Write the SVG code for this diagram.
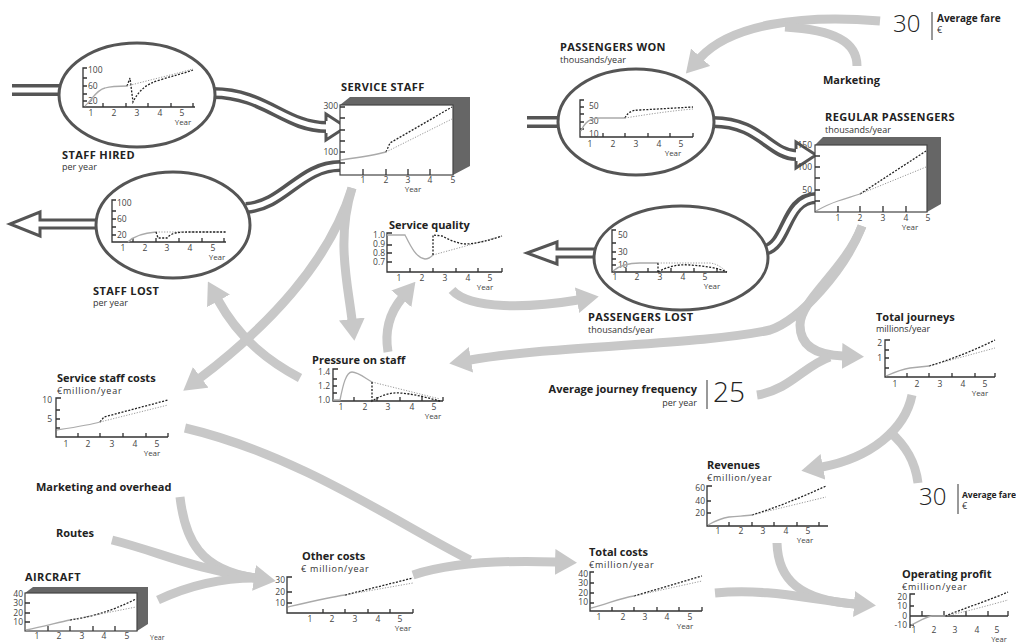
<svg xmlns="http://www.w3.org/2000/svg" width="1016" height="643" viewBox="0 0 1016 643">
<defs>
<marker id="ah" viewBox="0 0 22 26" markerWidth="22" markerHeight="26" refX="1" refY="13" orient="auto" markerUnits="userSpaceOnUse"><path d="M0,0 L22,13 L0,26 z" fill="#c8c8c8"/></marker>
</defs>
<style>
text{font-family:"Open Sans","Liberation Sans",sans-serif}
.t{font-size:11px;font-weight:700;fill:#222}
.u{font-size:9px;fill:#333}
.w{font-size:9px;fill:#333;letter-spacing:0.8px}
.a{font-size:8.5px;fill:#444}
.ar{font-size:8.5px;fill:#444;text-anchor:end}
.am{font-size:8.5px;fill:#444;text-anchor:middle}
.yr{font-size:8px;fill:#444;text-anchor:middle}
.ax{stroke:#333;stroke-width:1.3;fill:none}
.so{stroke:#aaa;stroke-width:1.3;fill:none}
.da{stroke:#222;stroke-width:1.3;fill:none;stroke-dasharray:2 1.5}
.do{stroke:#999;stroke-width:1;fill:none;stroke-dasharray:1.2 1.5}
.c{stroke:#c8c8c8;stroke-width:9;fill:none}
.ca{stroke:#c8c8c8;stroke-width:9;fill:none;marker-end:url(#ah)}
.po{stroke:#555;stroke-width:12;fill:none}
.pi{stroke:#fff;stroke-width:5;fill:none}
.el{fill:#fff;stroke:#555;stroke-width:3}
.hd{fill:#fff;stroke:#555;stroke-width:3;stroke-linejoin:miter}
.bx{fill:#fff;stroke:#444;stroke-width:1.2}
.dk{fill:#666}
.big{font-size:24px;fill:#222;font-weight:300}
.bar{stroke:#555;stroke-width:1.2}
</style>
<rect width="1016" height="643" fill="#fff"/>

<g id="connectors">
  <path class="ca" d="M880,21 C800,14 730,25 700,58"/>
  <path class="c" d="M857,66 C857,42 835,30 785,27"/>
  <path class="ca" d="M352,188 C330,260 270,325 200,378"/>
  <path class="ca" d="M352,188 C336,240 348,285 352,320"/>
  <path class="ca" d="M388,352 C384,328 392,310 402,298"/>
  <path class="ca" d="M300,378 C270,362 240,340 218,300"/>
  <path class="ca" d="M452,290 C470,310 530,308 578,300"/>
  <path class="ca" d="M862,226 C845,270 800,320 770,330 C700,345 560,345 470,360"/>
  <path class="ca" d="M862,226 C845,270 800,300 800,325 C800,345 815,355 843,356"/>
  <path class="c" d="M757,395 C790,390 805,365 830,357"/>
  <path class="ca" d="M912,395 C905,430 870,458 822,467"/>
  <path class="c" d="M918,483 C915,460 905,445 890,432"/>
  <path class="ca" d="M777,543 C778,580 800,600 855,604"/>
  <path class="c" d="M715,593 C770,588 810,600 855,604"/>
  <path class="c" d="M185,428 C300,455 400,525 470,560"/>
  <path class="ca" d="M413,575 C450,563 500,560 556,562"/>
  <path class="ca" d="M180,497 C185,540 200,570 255,578"/>
  <path class="c" d="M112,540 C160,552 190,568 255,578"/>
  <path class="c" d="M158,600 C190,585 220,578 255,578"/>

  <path class="po" d="M12,90 L62,90"/><path class="pi" d="M12,90 L62,90"/>
  <path class="po" d="M213,93 C265,93 285,127 326,127"/>
  <path class="hd" d="M326,121 L326,114 L346,127 L326,140 L326,133"/>
  <path class="pi" d="M213,93 C265,93 285,127 328,127"/>
  <path class="po" d="M340,166 C300,166 285,205 246,208"/><path class="pi" d="M342,166 C300,166 285,205 246,208"/>
  <polyline class="hd" points="98,220 40,220 40,212 10,224 40,236 40,228 98,228"/>
  <path class="po" d="M527,122 L560,122"/><path class="pi" d="M527,122 L560,122"/>
  <path class="po" d="M713,122 C760,122 770,155 796,155"/>
  <path class="hd" d="M796,149 L796,142 L816,155 L796,168 L796,161"/>
  <path class="pi" d="M713,122 C760,122 770,155 798,155"/>
  <path class="po" d="M816,198 C785,198 788,245 765,250"/><path class="pi" d="M818,198 C785,198 788,245 765,250"/>
  <polyline class="hd" points="596,249 557,249 557,242 527,253 557,264 557,257 596,257"/>
</g>

<g id="staff-hired">
  <ellipse class="el" cx="137" cy="95" rx="78" ry="52"/>
  <path class="ax" d="M87,68 H83 V107 H195 M83,78 h4 M83,86 h4 M83,94 h4 M83,101 h4 M103,107 v-4 M126,107 v-4 M148,107 v-4 M171,107 v-4 M193,107 v-4"/>
  <text class="a" x="88" y="73">100</text><text class="a" x="88" y="89">60</text><text class="a" x="88" y="104">20</text>
  <text class="am" x="91" y="116">1</text><text class="am" x="114" y="116">2</text><text class="am" x="137" y="116">3</text><text class="am" x="160" y="116">4</text><text class="am" x="182" y="116">5</text>
  <text class="yr" x="183" y="125">Year</text>
  <path class="so" d="M85,106 C92,100 96,90 105,88 C112,86 120,86 127,86"/>
  <path class="da" d="M127,86 L130,78 L133,102 C138,92 145,84 160,80 C172,76 182,74 193,70"/>
  <path class="do" d="M127,86 C150,80 175,74 193,69"/>
  <text class="t" x="62" y="159" letter-spacing="0.4">STAFF HIRED</text>
  <text class="u" x="62" y="170">per year</text>
</g>

<g id="service-staff">
  <polygon class="dk" points="340,105 350,97 470,97 470,166 453,175 453,105"/>
  <rect class="bx" x="340" y="105" width="113" height="70"/>
  <path class="ax" d="M340,107 h5 M340,118 h5 M340,130 h5 M340,141 h5 M340,152 h5 M340,163 h5 M363,175 v-6 M386,175 v-6 M408,175 v-6 M430,175 v-6"/>
  <text class="ar" x="338" y="109">300</text><text class="ar" x="338" y="155">100</text>
  <text class="am" x="363" y="183">1</text><text class="am" x="386" y="183">2</text><text class="am" x="408" y="183">3</text><text class="am" x="430" y="183">4</text><text class="am" x="453" y="183">5</text>
  <text class="yr" x="413" y="192">Year</text>
  <path class="so" d="M341,160 C355,158 375,155 386,152"/>
  <path class="da" d="M386,152 L390,143 L452,107"/>
  <path class="do" d="M386,152 L452,119"/>
  <text class="t" x="341" y="91" letter-spacing="0.4">SERVICE STAFF</text>
</g>

<g id="staff-lost">
  <ellipse class="el" cx="173" cy="225" rx="77" ry="53"/>
  <path class="ax" d="M116,200 H112 V242 H226 M112,211 h4 M112,219 h4 M112,227 h4 M112,235 h4 M133,242 v-4 M156,242 v-4 M179,242 v-4 M202,242 v-4 M224,242 v-4"/>
  <text class="a" x="117" y="206">100</text><text class="a" x="117" y="222">60</text><text class="a" x="117" y="238">20</text>
  <text class="am" x="123" y="251">1</text><text class="am" x="145" y="251">2</text><text class="am" x="167" y="251">3</text><text class="am" x="190" y="251">4</text><text class="am" x="213" y="251">5</text>
  <text class="yr" x="217" y="260">Year</text>
  <path class="so" d="M128,242 C134,236 142,233 156,232"/>
  <path class="do" d="M156,232 L226,232"/>
  <path class="da" d="M156,232 L158,238 L167,238 C172,232 180,232 190,232 L226,232"/>
  <text class="t" x="93" y="295" letter-spacing="0.4">STAFF LOST</text>
  <text class="u" x="93" y="306">per year</text>
</g>

<g id="passengers-won">
  <ellipse class="el" cx="636" cy="122" rx="78" ry="53"/>
  <path class="ax" d="M584,100 H580 V137 H693 M580,107 h4 M580,114 h4 M580,122 h4 M580,129 h4 M603,137 v-4 M625,137 v-4 M648,137 v-4 M670,137 v-4 M693,137 v-4"/>
  <text class="a" x="589" y="109">50</text><text class="a" x="589" y="124">30</text><text class="a" x="589" y="137">10</text>
  <text class="am" x="590" y="147">1</text><text class="am" x="613" y="147">2</text><text class="am" x="636" y="147">3</text><text class="am" x="659" y="147">4</text><text class="am" x="681" y="147">5</text>
  <text class="yr" x="673" y="156">Year</text>
  <path class="so" d="M581,131 C585,122 590,118 600,118 L625,118"/>
  <path class="da" d="M625,118 C628,112 632,110 640,110 L693,107"/>
  <path class="do" d="M625,118 C650,114 670,111 693,109"/>
  <text class="t" x="560" y="51" letter-spacing="0.4">PASSENGERS WON</text>
  <text class="u" x="560" y="63">thousands/year</text>
</g>

<g id="regular-passengers">
  <polygon class="dk" points="815,145 823,137 941,137 941,204 927,212 927,145"/>
  <rect class="bx" x="815" y="145" width="112" height="67"/>
  <path class="ax" d="M815,156 h5 M815,167 h5 M815,178 h5 M815,190 h5 M815,201 h5 M838,212 v-6 M860,212 v-6 M883,212 v-6 M906,212 v-6"/>
  <text class="ar" x="812" y="148">150</text><text class="ar" x="812" y="170">100</text><text class="ar" x="812" y="193">50</text>
  <text class="am" x="838" y="221">1</text><text class="am" x="860" y="221">2</text><text class="am" x="883" y="221">3</text><text class="am" x="906" y="221">4</text><text class="am" x="928" y="221">5</text>
  <text class="yr" x="910" y="230">Year</text>
  <path class="so" d="M816,211 C825,206 832,203 838,201 C848,198 853,196 860,194"/>
  <path class="da" d="M860,194 L926,151"/>
  <path class="do" d="M860,194 L926,167"/>
  <text class="t" x="825" y="121" letter-spacing="0.4">REGULAR PASSENGERS</text>
  <text class="u" x="825" y="133">thousands/year</text>
</g>

<g id="passengers-lost">
  <ellipse class="el" cx="681" cy="258" rx="87" ry="52"/>
  <path class="ax" d="M616,230 H612 V272 H727 M612,243 h4 M612,252 h4 M612,259 h4 M612,265 h4 M626,272 v-4 M648,272 v-4 M671,272 v-4 M694,272 v-4 M717,272 v-4"/>
  <text class="a" x="618" y="238">50</text><text class="a" x="618" y="255">30</text><text class="a" x="618" y="268">10</text>
  <text class="am" x="615" y="280">1</text><text class="am" x="637" y="280">2</text><text class="am" x="660" y="280">3</text><text class="am" x="683" y="280">4</text><text class="am" x="705" y="280">5</text>
  <text class="yr" x="712" y="289">Year</text>
  <path class="so" d="M613,271 C620,265 628,263 640,263 L658,263"/>
  <path class="da" d="M658,263 V272"/>
  <path class="do" d="M658,263 L710,263 C718,264 722,268 727,272"/>
  <path class="da" d="M658,272 C668,266 680,264 690,265 C705,266 718,268 727,272"/>
  <text class="t" x="588" y="321" letter-spacing="0.4">PASSENGERS LOST</text>
  <text class="u" x="588" y="333">thousands/year</text>
</g>

<g id="service-quality">
  <text class="t" x="389" y="229">Service quality</text>
  <path class="ax" d="M392,233 H387 V272 H502 M387,245 h5 M387,253 h5 M387,262 h5 M410,272 v-4 M433,272 v-4 M456,272 v-4 M478,272 v-4 M502,272 v-4"/>
  <text class="ar" x="385" y="238">1.0</text><text class="ar" x="385" y="247">0.9</text><text class="ar" x="385" y="256">0.8</text><text class="ar" x="385" y="265">0.7</text>
  <text class="am" x="399" y="281">1</text><text class="am" x="422" y="281">2</text><text class="am" x="445" y="281">3</text><text class="am" x="468" y="281">4</text><text class="am" x="490" y="281">5</text>
  <text class="yr" x="485" y="290">Year</text>
  <path class="so" d="M387,235 L405,235 C410,245 416,258 425,259 C429,259 431,257 433,255"/>
  <path class="do" d="M433,255 L502,236"/>
  <path class="da" d="M433,255 V235 L442,236 C450,240 458,244 467,244 C480,243 490,240 502,236"/>
</g>

<g id="pressure-on-staff">
  <text class="t" x="312" y="364">Pressure on staff</text>
  <path class="ax" d="M338,369 H333 V401 H443 M333,379 h4 M333,386 h4 M333,393 h4 M354,401 v-4 M377,401 v-4 M400,401 v-4 M422,401 v-4 M443,401 v-4"/>
  <text class="ar" x="330" y="375">1.4</text><text class="ar" x="330" y="389">1.2</text><text class="ar" x="330" y="403">1.0</text>
  <text class="am" x="341" y="410">1</text><text class="am" x="365" y="410">2</text><text class="am" x="388" y="410">3</text><text class="am" x="412" y="410">4</text><text class="am" x="434" y="410">5</text>
  <text class="yr" x="433" y="419">Year</text>
  <path class="so" d="M333,400 L340,400 C343,385 346,372 352,372 C358,372 365,378 372,382"/>
  <path class="do" d="M372,382 L440,399"/>
  <path class="da" d="M372,382 V401 C380,396 390,392 400,393 C415,394 428,398 440,401"/>
</g>

<g id="service-staff-costs">
  <text class="t" x="57" y="382">Service staff costs</text>
  <text class="w" x="57" y="394">€million/year</text>
  <path class="ax" d="M61,398 H56 V437 H168 M56,410 h4 M56,419 h4 M56,428 h4 M78,437 v-4 M100,437 v-4 M123,437 v-4 M146,437 v-4 M168,437 v-4"/>
  <text class="ar" x="52" y="403">10</text><text class="ar" x="52" y="422">5</text>
  <text class="am" x="66" y="447">1</text><text class="am" x="88" y="447">2</text><text class="am" x="112" y="447">3</text><text class="am" x="135" y="447">4</text><text class="am" x="157" y="447">5</text>
  <text class="yr" x="152" y="456">Year</text>
  <path class="so" d="M57,430 C70,428 90,425 100,422"/>
  <path class="da" d="M100,422 L104,417 L168,400"/>
  <path class="do" d="M100,422 L168,405"/>
</g>

<g id="marketing-overhead"><text class="t" x="36" y="491">Marketing and overhead</text></g>
<g id="routes"><text class="t" x="56" y="537">Routes</text></g>

<g id="aircraft">
  <text class="t" x="25" y="581" letter-spacing="0.4">AIRCRAFT</text>
  <polygon class="dk" points="25,593 33,587 148,587 148,624 137,631 137,593"/>
  <rect class="bx" x="25" y="593" width="112" height="38"/>
  <path class="ax" d="M25,603 h5 M25,613 h5 M25,622 h5 M48,631 v-5 M70,631 v-5 M93,631 v-5 M115,631 v-5"/>
  <text class="ar" x="23" y="597">40</text><text class="ar" x="23" y="606">30</text><text class="ar" x="23" y="616">20</text><text class="ar" x="23" y="625">10</text>
  <text class="am" x="37" y="639">1</text><text class="am" x="59" y="639">2</text><text class="am" x="82" y="639">3</text><text class="am" x="104" y="639">4</text><text class="am" x="127" y="639">5</text>
  <text class="yr" x="150" y="640" style="text-anchor:start;font-size:7px">Year</text>
  <path class="so" d="M26,630 C45,626 60,622 70,620"/>
  <path class="da" d="M70,620 C90,617 110,612 136,599"/>
  <path class="do" d="M70,620 L136,607"/>
</g>

<g id="other-costs">
  <text class="t" x="302" y="560">Other costs</text>
  <text class="w" x="301" y="572">€ million/year</text>
  <path class="ax" d="M292,577 H287 V613 H413 M287,592 h5 M287,603 h5 M323,613 v-4 M345,613 v-4 M368,613 v-4 M390,613 v-4 M413,613 v-4"/>
  <text class="ar" x="285" y="583">30</text><text class="ar" x="285" y="595">20</text><text class="ar" x="285" y="606">10</text>
  <text class="am" x="310" y="622">1</text><text class="am" x="332" y="622">2</text><text class="am" x="355" y="622">3</text><text class="am" x="378" y="622">4</text><text class="am" x="400" y="622">5</text>
  <text class="yr" x="403" y="631">Year</text>
  <path class="so" d="M288,607 C305,603 330,597 345,595"/>
  <path class="da" d="M345,595 L413,578"/>
  <path class="do" d="M345,595 L413,583"/>
</g>

<g id="total-costs">
  <text class="t" x="589" y="556">Total costs</text>
  <text class="w" x="589" y="568">€million/year</text>
  <path class="ax" d="M594,572 H590 V611 H702 M590,583 h4 M590,593 h4 M590,603 h4 M612,611 v-4 M634,611 v-4 M657,611 v-4 M679,611 v-4 M702,611 v-4"/>
  <text class="ar" x="588" y="577">40</text><text class="ar" x="588" y="586">30</text><text class="ar" x="588" y="596">20</text><text class="ar" x="588" y="605">10</text>
  <text class="am" x="599" y="620">1</text><text class="am" x="623" y="620">2</text><text class="am" x="645" y="620">3</text><text class="am" x="667" y="620">4</text><text class="am" x="690" y="620">5</text>
  <text class="yr" x="685" y="629">Year</text>
  <path class="so" d="M591,608 C605,605 620,598 634,596"/>
  <path class="da" d="M634,596 L702,576"/>
  <path class="do" d="M634,596 L702,581"/>
</g>

<g id="revenues">
  <text class="t" x="707" y="469">Revenues</text>
  <text class="w" x="707" y="481">€million/year</text>
  <path class="ax" d="M712,486 H707 V526 H828 M707,501 h4 M707,513 h4 M729,526 v-4 M752,526 v-4 M774,526 v-4 M797,526 v-4 M819,526 v-4"/>
  <text class="ar" x="705" y="491">60</text><text class="ar" x="705" y="504">40</text><text class="ar" x="705" y="516">20</text>
  <text class="am" x="718" y="534">1</text><text class="am" x="741" y="534">2</text><text class="am" x="763" y="534">3</text><text class="am" x="786" y="534">4</text><text class="am" x="808" y="534">5</text>
  <text class="yr" x="805" y="543">Year</text>
  <path class="so" d="M708,525 C715,521 722,518 729,517 C738,516 745,516 752,515"/>
  <path class="da" d="M752,515 C775,508 800,498 826,486"/>
  <path class="do" d="M752,515 L826,497"/>
</g>

<g id="operating-profit">
  <text class="t" x="902" y="578">Operating profit</text>
  <text class="w" x="902" y="590">€million/year</text>
  <path class="ax" d="M915,594 H910 V628 M910,616 H1008 M910,606 h4 M910,625 h4 M922,616 v-5 M944,616 v-5 M966,616 v-5 M988,616 v-5 M1008,616 v-5"/>
  <text class="ar" x="907" y="600">20</text><text class="ar" x="907" y="609">10</text><text class="ar" x="907" y="619">0</text><text class="ar" x="907" y="628">-10</text>
  <text class="am" x="914" y="633">1</text><text class="am" x="934" y="633">2</text><text class="am" x="955" y="633">3</text><text class="am" x="977" y="633">4</text><text class="am" x="997" y="633">5</text>
  <text class="yr" x="999" y="642" style="font-size:7.5px">Year</text>
  <path class="so" d="M911,625 C918,622 925,617 932,616 L945,616"/>
  <path class="da" d="M945,616 C965,608 990,600 1008,592"/>
  <path class="do" d="M945,616 C965,612 990,605 1008,600"/>
</g>

<g id="total-journeys">
  <text class="t" x="876" y="321">Total journeys</text>
  <text class="u" x="876" y="332">millions/year</text>
  <path class="ax" d="M890,340 H885 V377 H995 M885,350 h4 M885,358 h4 M885,368 h4 M907,377 v-4 M929,377 v-4 M952,377 v-4 M975,377 v-4 M995,377 v-4"/>
  <text class="ar" x="882" y="346">2</text><text class="ar" x="882" y="361">1</text>
  <text class="am" x="895" y="387">1</text><text class="am" x="917" y="387">2</text><text class="am" x="940" y="387">3</text><text class="am" x="963" y="387">4</text><text class="am" x="985" y="387">5</text>
  <text class="yr" x="980" y="396">Year</text>
  <path class="so" d="M886,376 C895,372 903,369 910,368 L929,366"/>
  <path class="da" d="M929,366 C950,360 975,350 995,340"/>
  <path class="do" d="M929,366 L995,348"/>
</g>

<g id="average-journey-frequency">
  <text class="t" x="697" y="393" text-anchor="end">Average journey frequency</text>
  <text class="u" x="697" y="406" text-anchor="end">per year</text>
  <path class="bar" d="M707,380 V409"/>
  <text class="big" x="713" y="402" style="font-size:28px">25</text>
</g>

<g id="marketing"><text class="t" x="823" y="84">Marketing</text></g>

<g id="average-fare-1">
  <text class="big" x="893" y="32">30</text>
  <path class="bar" d="M932,12 V40"/>
  <text class="t" x="937" y="22" style="font-size:10px">Average fare</text>
  <text class="u" x="937" y="33">€</text>
</g>

<g id="average-fare-2">
  <text class="big" x="919" y="505">30</text>
  <path class="bar" d="M958,484 V514"/>
  <text class="t" x="962" y="498" style="font-size:8.5px">Average fare</text>
  <text class="u" x="962" y="509">€</text>
</g>
</svg>
